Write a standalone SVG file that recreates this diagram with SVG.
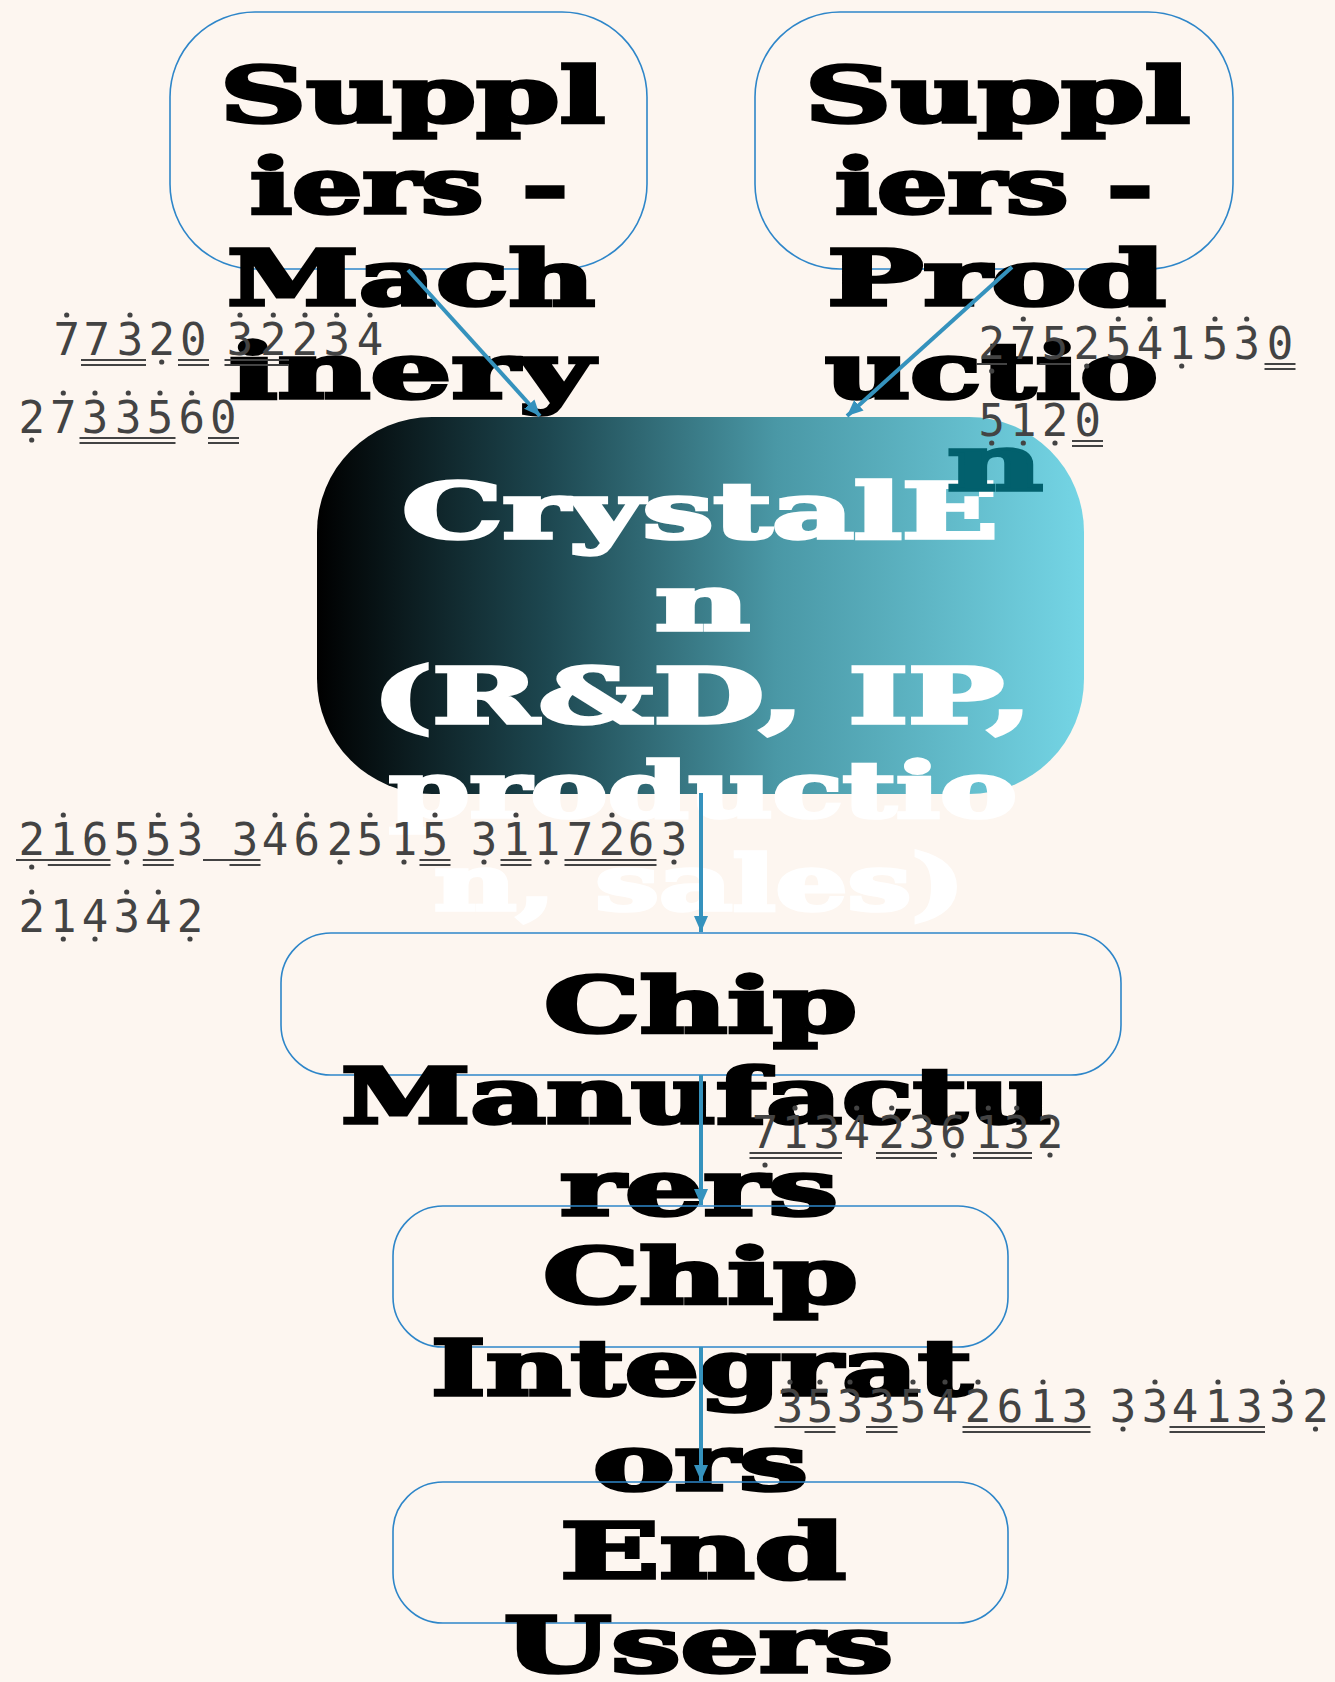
<svg xmlns="http://www.w3.org/2000/svg" width="1335" height="1682" viewBox="0 0 1335 1682">
  <style>
    .box { fill: none; stroke: #2e86c9; stroke-width: 1.6; }
    .nt { font-family: "DejaVu Serif", "Liberation Serif", serif; font-weight: bold; font-size: 76px; fill: #000; stroke: #000; stroke-width: 3.5; stroke-linejoin: miter; }
    .nt-w { fill: #fff; stroke: #fff; }
    .nt-teal { fill: #02606d; stroke: #02606d; }
    .edge { fill: none; stroke: #3592bd; stroke-width: 4; }
    .lbl { font-family: "DejaVu Sans Mono", "Liberation Mono", monospace; font-size: 44px; fill: #434343; text-anchor: middle; }
    .dot { fill: #434343; }
    .bar { fill: none; stroke: #434343; stroke-width: 2; }
  </style>
  <defs>
    <linearGradient id="coreFill" x1="0" y1="0" x2="1" y2="0">
      <stop offset="0" stop-color="#000000"/>
      <stop offset="0.3" stop-color="#1d4750"/>
      <stop offset="0.6" stop-color="#4a98a6"/>
      <stop offset="1" stop-color="#74d5e5"/>
    </linearGradient>
    <marker id="arrow" markerUnits="userSpaceOnUse" markerWidth="18" markerHeight="16" refX="16" refY="8" orient="auto">
      <path d="M0,1 L16,8 L0,15 z" fill="#3592bd"/>
    </marker>
    <circle id="d" r="2.6" class="dot"/>
  </defs>

  <rect width="1335" height="1682" fill="#fdf6f0"/>

  <!-- core company node -->
  <g id="crystalen">
    <rect x="317" y="417" width="767" height="377" rx="115" ry="115" fill="url(#coreFill)"/>
    <text class="nt nt-w" x="402" y="538" textLength="596" lengthAdjust="spacingAndGlyphs">CrystalE</text>
    <text class="nt nt-w" x="655" y="630" textLength="95" lengthAdjust="spacingAndGlyphs">n</text>
    <text class="nt nt-w" x="372" y="723" textLength="660" lengthAdjust="spacingAndGlyphs">(R&amp;D, IP,</text>
    <text class="nt nt-w" x="389" y="817" textLength="628" lengthAdjust="spacingAndGlyphs">productio</text>
    <text class="nt nt-w" x="434" y="910" textLength="531" lengthAdjust="spacingAndGlyphs">n, sales)</text>
  </g>

  <g id="suppliers-machinery">
    <rect class="box" x="170" y="12" width="477" height="257" rx="85" ry="85"/>
    <text class="nt" x="220" y="122" textLength="385" lengthAdjust="spacingAndGlyphs">Suppl</text>
    <text class="nt" x="250" y="213" textLength="318" lengthAdjust="spacingAndGlyphs">iers -</text>
    <text class="nt" x="227" y="305" textLength="368" lengthAdjust="spacingAndGlyphs">Mach</text>
    <text class="nt" x="229" y="398" textLength="364" lengthAdjust="spacingAndGlyphs">inery</text>
  </g>

  <g id="suppliers-production">
    <rect class="box" x="755" y="12" width="478" height="257" rx="85" ry="85"/>
    <text class="nt" x="805" y="122" textLength="385" lengthAdjust="spacingAndGlyphs">Suppl</text>
    <text class="nt" x="835" y="213" textLength="318" lengthAdjust="spacingAndGlyphs">iers -</text>
    <text class="nt" x="827" y="305" textLength="339" lengthAdjust="spacingAndGlyphs">Prod</text>
    <text class="nt" x="825" y="398" textLength="333" lengthAdjust="spacingAndGlyphs">uctio</text>
    <text class="nt nt-teal" x="947" y="490" textLength="96" lengthAdjust="spacingAndGlyphs">n</text>
  </g>

  <g id="chip-manufacturers">
    <rect class="box" x="281" y="933" width="840" height="142" rx="50" ry="50"/>
    <text class="nt" x="544" y="1032" textLength="313" lengthAdjust="spacingAndGlyphs">Chip</text>
    <text class="nt" x="341" y="1123" textLength="711" lengthAdjust="spacingAndGlyphs">Manufactu</text>
    <text class="nt" x="560" y="1215" textLength="278" lengthAdjust="spacingAndGlyphs">rers</text>
  </g>

  <g id="chip-integrators">
    <rect class="box" x="393" y="1206" width="615" height="141" rx="50" ry="50"/>
    <text class="nt" x="543" y="1303" textLength="315" lengthAdjust="spacingAndGlyphs">Chip</text>
    <text class="nt" x="431" y="1395" textLength="541" lengthAdjust="spacingAndGlyphs">Integrat</text>
    <text class="nt" x="593" y="1490" textLength="215" lengthAdjust="spacingAndGlyphs">ors</text>
  </g>

  <g id="end-users">
    <rect class="box" x="393" y="1482" width="615" height="141" rx="50" ry="50"/>
    <text class="nt" x="560" y="1578" textLength="286" lengthAdjust="spacingAndGlyphs">End</text>
    <text class="nt" x="504" y="1672" textLength="389" lengthAdjust="spacingAndGlyphs">Users</text>
  </g>

  <!-- connectors -->
  <g id="edges">
    <path class="edge" d="M408,270 L540,416" marker-end="url(#arrow)"/>
    <path class="edge" d="M1012,267 L847,416" marker-end="url(#arrow)"/>
    <path class="edge" d="M701,793 L701,932" marker-end="url(#arrow)"/>
    <path class="edge" d="M701,1075 L701,1205" marker-end="url(#arrow)"/>
    <path class="edge" d="M701,1347 L701,1481" marker-end="url(#arrow)"/>
  </g>

  <!-- connector labels in numbered notation: digits plus octave dots and beat bars -->
  <g id="edge-labels">
    <g id="label-machinery">
      <text class="lbl" y="355"><tspan x="66.7">7</tspan><tspan x="96.7">7</tspan><tspan x="130">3</tspan><tspan x="161.7">2</tspan><tspan x="193.3">0</tspan><tspan x="240">3</tspan><tspan x="273.3">2</tspan><tspan x="305">2</tspan><tspan x="336.7">3</tspan><tspan x="370">4</tspan></text>
      <text class="lbl" y="433"><tspan x="31.7">2</tspan><tspan x="63.3">7</tspan><tspan x="95">3</tspan><tspan x="128.3">3</tspan><tspan x="160">5</tspan><tspan x="191.7">6</tspan><tspan x="223.3">0</tspan></text>
      <g>
        <use href="#d" x="66.7" y="315"/><use href="#d" x="130" y="315"/><use href="#d" x="240" y="315"/><use href="#d" x="273.3" y="315"/><use href="#d" x="305" y="315"/><use href="#d" x="336.7" y="315"/><use href="#d" x="370" y="315"/>
        <use href="#d" x="161.7" y="362"/>
        <path class="bar" d="M81,360H146M81,365H146M178,360H209M178,365H209M224.5,360H289M224.5,365H289"/>
        <use href="#d" x="31.7" y="440"/>
        <use href="#d" x="63.3" y="393"/><use href="#d" x="95" y="393"/><use href="#d" x="128.3" y="393"/><use href="#d" x="160" y="393"/><use href="#d" x="191.7" y="393"/>
        <path class="bar" d="M79.5,438H175.5M79.5,443H175.5M208,438H239M208,443H239"/>
      </g>
    </g>

    <g id="label-production">
      <text class="lbl" y="359"><tspan x="991.7">2</tspan><tspan x="1023.3">7</tspan><tspan x="1055">5</tspan><tspan x="1086.7">2</tspan><tspan x="1118.3">5</tspan><tspan x="1150">4</tspan><tspan x="1181.7">1</tspan><tspan x="1215">5</tspan><tspan x="1246.7">3</tspan><tspan x="1280">0</tspan></text>
      <text class="lbl" y="436"><tspan x="991.7">5</tspan><tspan x="1023.3">1</tspan><tspan x="1055">2</tspan><tspan x="1087.7">0</tspan></text>
      <g>
        <use href="#d" x="1023.3" y="319"/><use href="#d" x="1118.3" y="319"/><use href="#d" x="1150" y="319"/><use href="#d" x="1215" y="319"/><use href="#d" x="1246.7" y="319"/>
        <use href="#d" x="991.7" y="371"/><use href="#d" x="1086.7" y="366"/><use href="#d" x="1181.7" y="366"/>
        <path class="bar" d="M976,364H1007M1039.5,364H1070.5M1264.5,364H1295.5M1264.5,369H1295.5"/>
        <use href="#d" x="991.7" y="443"/><use href="#d" x="1023.3" y="443"/><use href="#d" x="1055" y="443"/>
        <path class="bar" d="M1072,441H1103M1072,446H1103"/>
      </g>
    </g>

    <g id="label-core">
      <text class="lbl" y="855"><tspan x="31.7">2</tspan><tspan x="63.3">1</tspan><tspan x="95">6</tspan><tspan x="126.7">5</tspan><tspan x="158.3">5</tspan><tspan x="190">3</tspan><tspan x="245">3</tspan><tspan x="275">4</tspan><tspan x="306.7">6</tspan><tspan x="340">2</tspan><tspan x="370">5</tspan><tspan x="404">1</tspan><tspan x="435">5</tspan><tspan x="484">3</tspan><tspan x="516">1</tspan><tspan x="547">1</tspan><tspan x="580">7</tspan><tspan x="612">2</tspan><tspan x="641">6</tspan><tspan x="674">3</tspan></text>
      <text class="lbl" y="932"><tspan x="31.7">2</tspan><tspan x="63.3">1</tspan><tspan x="95">4</tspan><tspan x="126.7">3</tspan><tspan x="158.3">4</tspan><tspan x="190">2</tspan></text>
      <g>
        <use href="#d" x="63.3" y="815"/><use href="#d" x="158.3" y="815"/><use href="#d" x="190" y="815"/><use href="#d" x="275" y="815"/><use href="#d" x="306.7" y="815"/><use href="#d" x="370" y="815"/><use href="#d" x="435" y="815"/><use href="#d" x="516" y="815"/><use href="#d" x="612" y="815"/>
        <use href="#d" x="31.7" y="867"/><use href="#d" x="126.7" y="862"/><use href="#d" x="340" y="862"/><use href="#d" x="404" y="862"/><use href="#d" x="484" y="862"/><use href="#d" x="547" y="862"/><use href="#d" x="674" y="862"/>
        <path class="bar" d="M16,860H110.5M47.8,865H110.5M142.8,860H173.8M142.8,865H173.8M203,860H260.5M229.5,865H260.5M419.5,860H450.5M419.5,865H450.5M500.5,860H531.5M500.5,865H531.5M564.5,860H656.5M564.5,865H656.5"/>
        <use href="#d" x="31.7" y="892"/><use href="#d" x="126.7" y="892"/><use href="#d" x="158.3" y="892"/>
        <use href="#d" x="63.3" y="939"/><use href="#d" x="95" y="939"/><use href="#d" x="190" y="939"/>
      </g>
    </g>

    <g id="label-manufacturers">
      <text class="lbl" y="1148"><tspan x="765">7</tspan><tspan x="795">1</tspan><tspan x="826.7">3</tspan><tspan x="856.7">4</tspan><tspan x="891.7">2</tspan><tspan x="921.7">3</tspan><tspan x="953.3">6</tspan><tspan x="988.3">1</tspan><tspan x="1016.7">3</tspan><tspan x="1050">2</tspan></text>
      <g>
        <use href="#d" x="795" y="1108"/><use href="#d" x="856.7" y="1108"/><use href="#d" x="891.7" y="1108"/><use href="#d" x="988.3" y="1108"/><use href="#d" x="1016.7" y="1108"/>
        <use href="#d" x="765" y="1165"/><use href="#d" x="953.3" y="1155"/><use href="#d" x="1050" y="1155"/>
        <path class="bar" d="M749.5,1153H842M749.5,1158H842M876,1153H937M876,1158H937M973,1153H1032M973,1158H1032"/>
      </g>
    </g>

    <g id="label-integrators">
      <text class="lbl" y="1422"><tspan x="790">3</tspan><tspan x="820">5</tspan><tspan x="850">3</tspan><tspan x="881.7">3</tspan><tspan x="913">5</tspan><tspan x="945">4</tspan><tspan x="978">2</tspan><tspan x="1010">6</tspan><tspan x="1043">1</tspan><tspan x="1075">3</tspan><tspan x="1123">3</tspan><tspan x="1155">3</tspan><tspan x="1185">4</tspan><tspan x="1218">1</tspan><tspan x="1249.5">3</tspan><tspan x="1282.5">3</tspan><tspan x="1315.5">2</tspan></text>
      <g>
        <use href="#d" x="790" y="1382"/><use href="#d" x="820" y="1382"/><use href="#d" x="850" y="1382"/><use href="#d" x="913" y="1382"/><use href="#d" x="945" y="1382"/><use href="#d" x="978" y="1382"/><use href="#d" x="1043" y="1382"/><use href="#d" x="1155" y="1382"/><use href="#d" x="1218" y="1382"/><use href="#d" x="1282.5" y="1382"/>
        <use href="#d" x="1123" y="1429"/><use href="#d" x="1315.5" y="1429"/>
        <path class="bar" d="M774.5,1427H835.5M804.5,1432H835.5M866,1427H897.5M866,1432H897.5M962.5,1427H1090.5M962.5,1432H1090.5M1169.5,1427H1265M1169.5,1432H1265"/>
      </g>
    </g>
  </g>
</svg>
